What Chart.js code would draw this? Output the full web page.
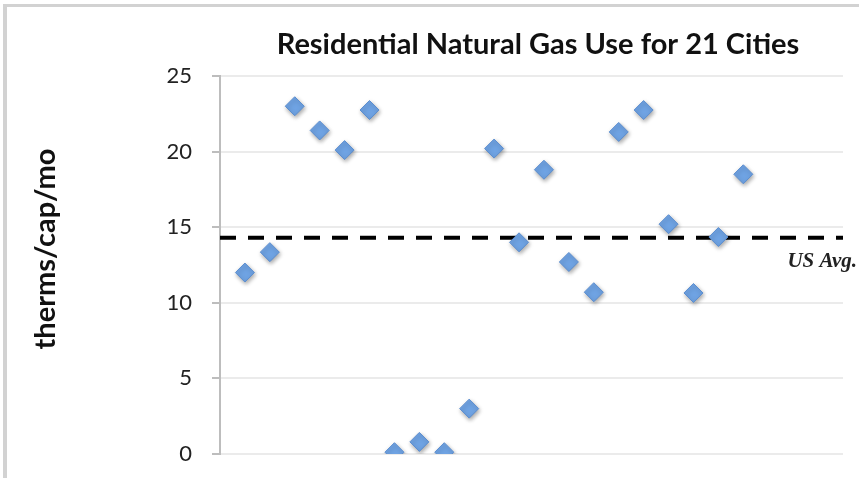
<!DOCTYPE html>
<html>
<head>
<meta charset="utf-8">
<script src="https://cdn.jsdelivr.net/npm/chart.js@4.4.0/dist/chart.umd.min.js"></script>
<style>
  html, body { margin: 0; padding: 0; background: #ffffff; }
  canvas { display: block; }
</style>
</head>
<body>
<canvas id="gas" width="859" height="478"></canvas>
<script>
// City number (1-21) and residential gas use, therms per capita per month
const cityNumbers = [1, 2, 3, 4, 5, 6, 7, 8, 9, 10, 11, 12, 13, 14, 15, 16, 17, 18, 19, 20, 21];
const thermsPerCapita = [12.0, 13.35, 23.0, 21.4, 20.1, 22.75, 0.12, 0.8, 0.12, 3.0, 20.2, 14.0, 18.8, 12.7, 10.7, 21.3, 22.75, 15.2, 10.65, 14.35, 18.5];
const usAverage = 14.3;
const yTicks = [0, 5, 10, 15, 20, 25];
const xRange = [0, 25];

const chartTitle = 'Residential Natural Gas Use for 21 Cities';
const yTitle = 'therms/cap/mo';
const avgLabel = 'US Avg.';

// Frame, headings and the average label drawn onto the canvas
const decorations = {
  id: 'decorations',
  beforeDraw(chart) {
    const ctx = chart.ctx;
    ctx.save();
    ctx.fillStyle = '#d2d2d2';
    ctx.fillRect(3, 4, chart.width - 3, 3);
    ctx.fillRect(3, 4, 4, chart.height - 4);
    ctx.restore();
  },
  afterDraw(chart) {
    const ctx = chart.ctx;
    const y = chart.scales.y;
    const area = chart.chartArea;
    ctx.save();
    ctx.fillStyle = '#111111';
    ctx.textAlign = 'center';
    ctx.textBaseline = 'middle';
    ctx.font = 'bold 29px Lato';
    ctx.fillText(chartTitle, 538, 45);

    ctx.translate(46, 249);
    ctx.rotate(-Math.PI / 2);
    ctx.font = 'bold 29px Lato';
    ctx.fillText(yTitle, 0, 0);
    ctx.restore();

    ctx.save();
    ctx.fillStyle = '#222222';
    ctx.font = 'italic bold 21px "Liberation Serif"';
    ctx.textAlign = 'right';
    ctx.textBaseline = 'alphabetic';
    ctx.fillText(avgLabel, area.right + 14, y.getPixelForValue(usAverage) + 29);
    ctx.restore();
  },
  beforeDatasetDraw(chart, args) {
    if (args.index === 0) {
      const ctx = chart.ctx;
      ctx.save();
      ctx.shadowColor = 'rgba(0,0,0,0.35)';
      ctx.shadowBlur = 4;
      ctx.shadowOffsetX = 1;
      ctx.shadowOffsetY = 2;
    }
  },
  afterDatasetDraw(chart, args) {
    if (args.index === 0) chart.ctx.restore();
  }
};

new Chart(document.getElementById('gas'), {
  type: 'scatter',
  data: {
    datasets: [
      {
        label: 'Gas use',
        data: cityNumbers.map((c, i) => ({ x: c, y: thermsPerCapita[i] })),
        pointStyle: 'rectRot',
        pointRadius: 9.5,
        pointBackgroundColor: '#6fa3e3',
        pointBorderColor: '#5b8dcf',
        pointBorderWidth: 1,
        order: 1
      },
      {
        type: 'line',
        label: 'US average',
        data: xRange.map(x => ({ x: x, y: usAverage })),
        borderColor: '#000000',
        borderWidth: 4,
        borderDash: [16, 12],
        pointRadius: 0,
        fill: false,
        order: 2
      }
    ]
  },
  options: {
    responsive: false,
    devicePixelRatio: 1,
    animation: false,
    events: [],
    layout: { padding: { top: 76, right: 16, bottom: 24, left: 0 } },
    plugins: {
      legend: { display: false },
      title: { display: false },
      tooltip: { enabled: false }
    },
    scales: {
      x: {
        type: 'linear',
        min: xRange[0],
        max: xRange[1],
        display: false
      },
      y: {
        min: yTicks[0],
        max: yTicks[yTicks.length - 1],
        afterFit(scale) {
          scale.width = 220;
          // let the layout padding alone set the plot's top and bottom
          scale.paddingTop = 0;
          scale.paddingBottom = 0;
        },
        afterBuildTicks(scale) { scale.ticks = yTicks.map(v => ({ value: v })); },
        ticks: {
          color: '#222222',
          font: { family: 'Lato', size: 22 },
          padding: 20
        },
        grid: {
          color: '#ebebeb',
          lineWidth: 2,
          tickColor: '#bdbdbd',
          tickLength: 8,
          drawTicks: true
        },
        border: { color: '#bdbdbd', width: 2 }
      }
    }
  },
  plugins: [decorations]
});
</script>
</body>
</html>
